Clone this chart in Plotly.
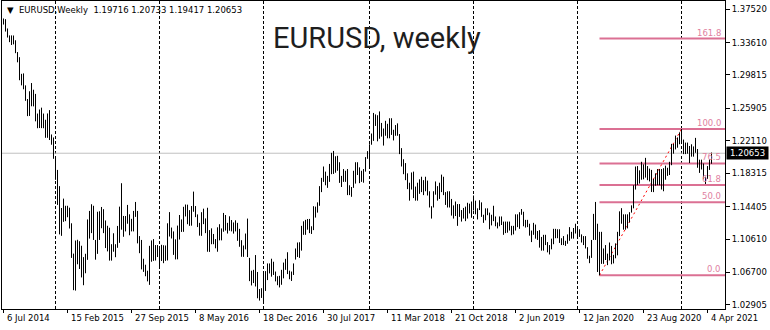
import datetime as dt
import pandas as pd
import plotly.graph_objects as go

# ---------------- data (weekly EURUSD bars) ----------------
symbol = "EURUSD"
timeframe = "Weekly"
chart_title = "EURUSD, weekly"
first_week = "2014-07-06"

high_2014 = [1.3643, 1.3635, 1.3526, 1.3445,
             1.3445, 1.3444, 1.3388, 1.3250, 1.3190,
             1.2995, 1.3000, 1.2860, 1.2700,
             1.2791, 1.2887, 1.2809, 1.2760,
             1.2530, 1.2577, 1.2599, 1.2530, 1.2457,
             1.2531, 1.2570, 1.2285, 1.2250]
low_2014 = [1.3572, 1.3490, 1.3420, 1.3366,
            1.3333, 1.3340, 1.3237, 1.3130, 1.2920,
            1.2860, 1.2814, 1.2679, 1.2500,
            1.2502, 1.2615, 1.2614, 1.2439,
            1.2358, 1.2360, 1.2359, 1.2358, 1.2246,
            1.2246, 1.2220, 1.2165, 1.2000]

high_2015 = [1.2000, 1.1870, 1.1680, 1.1424,
             1.1534, 1.1450, 1.1450, 1.1428,
             1.1245, 1.0890, 1.1043, 1.1052, 1.1035,
             1.0982, 1.0849, 1.0888, 1.1290,
             1.1390, 1.1468, 1.1450, 1.1050, 1.1380,
             1.1386, 1.1436, 1.1410, 1.1278,
             1.1216, 1.1193, 1.1000, 1.1128,
             1.1000, 1.1214, 1.1440, 1.1714, 1.1331,
             1.1330, 1.1460, 1.1350, 1.1297,
             1.1390, 1.1495, 1.1390, 1.1095,
             1.1050, 1.0830, 1.0760, 1.0690, 1.0981,
             1.1044, 1.1060, 1.0990, 1.0990]
low_2015 = [1.1754, 1.1460, 1.1115, 1.1098,
            1.1262, 1.1270, 1.1316, 1.1184,
            1.0840, 1.0462, 1.0457, 1.0765, 1.0710,
            1.0611, 1.0520, 1.0660, 1.0817,
            1.1066, 1.1130, 1.1050, 1.0819, 1.0887,
            1.1050, 1.1187, 1.1130, 1.0955,
            1.0916, 1.0808, 1.0808, 1.0912,
            1.0848, 1.0958, 1.1016, 1.1170, 1.1087,
            1.1150, 1.1240, 1.1105, 1.1150,
            1.1150, 1.1320, 1.1010, 1.0895,
            1.0705, 1.0676, 1.0625, 1.0565, 1.0524,
            1.0795, 1.0805, 1.0809, 1.0850]

high_2016 = [1.0970, 1.0993, 1.0988, 1.0985, 1.1245,
             1.1376, 1.1195, 1.1150, 1.1057,
             1.1218, 1.1342, 1.1290, 1.1438,
             1.1465, 1.1463, 1.1399, 1.1447,
             1.1616, 1.1447, 1.1349, 1.1250, 1.1375,
             1.1416, 1.1302, 1.1427, 1.1165,
             1.1186, 1.1120, 1.1060, 1.1198, 1.1234,
             1.1185, 1.1366, 1.1342, 1.1250,
             1.1327, 1.1283, 1.1255, 1.1280,
             1.1250, 1.1180, 1.1047, 1.0985, 1.1125,
             1.1300, 1.0840, 1.0690, 1.0700,
             1.0873, 1.0675, 1.0475, 1.0485]
low_2016 = [1.0712, 1.0804, 1.0778, 1.0805, 1.0810,
            1.1090, 1.1067, 1.0875, 1.0822,
            1.0823, 1.1055, 1.1144, 1.1145,
            1.1325, 1.1234, 1.1215, 1.1217,
            1.1380, 1.1317, 1.1201, 1.1100, 1.1098,
            1.1235, 1.1130, 1.0912, 1.0910,
            1.1000, 1.1000, 1.0952, 1.0912, 1.1045,
            1.1045, 1.1146, 1.1160, 1.1125,
            1.1158, 1.1150, 1.1124, 1.1150,
            1.1040, 1.0970, 1.0853, 1.0852, 1.0940,
            1.0850, 1.0568, 1.0517, 1.0545,
            1.0505, 1.0367, 1.0340, 1.0371]

high_2017 = [1.0685, 1.0685, 1.0775, 1.0775, 1.0830,
             1.0795, 1.0680, 1.0625, 1.0630,
             1.0700, 1.0785, 1.0829, 1.0906,
             1.0690, 1.0680, 1.0775, 1.0950, 1.1020,
             1.1023, 1.1215, 1.1268, 1.1285,
             1.1295, 1.1296, 1.1210, 1.1445,
             1.1440, 1.1490, 1.1680, 1.1777, 1.1910,
             1.1850, 1.1800, 1.1940, 1.2070,
             1.2092, 1.2030, 1.2035, 1.1960,
             1.1800, 1.1880, 1.1860, 1.1880, 1.1690,
             1.1670, 1.1860, 1.1960, 1.1960,
             1.1900, 1.1860, 1.1880, 1.2020, 1.2090]
low_2017 = [1.0310, 1.0453, 1.0580, 1.0658, 1.0620,
            1.0640, 1.0565, 1.0520, 1.0494,
            1.0525, 1.0600, 1.0700, 1.0650,
            1.0590, 1.0570, 1.0640, 1.0820, 1.0850,
            1.0840, 1.0925, 1.1110, 1.1110,
            1.1170, 1.1130, 1.1120, 1.1165,
            1.1312, 1.1370, 1.1450, 1.1610, 1.1730,
            1.1690, 1.1660, 1.1730, 1.1820,
            1.1823, 1.1837, 1.1860, 1.1718,
            1.1670, 1.1730, 1.1730, 1.1575, 1.1575,
            1.1555, 1.1660, 1.1710, 1.1810,
            1.1715, 1.1730, 1.1720, 1.1850, 1.2000]

high_2018 = [1.2170, 1.2296, 1.2537, 1.2520,
             1.2510, 1.2555, 1.2420, 1.2355,
             1.2445, 1.2410, 1.2475, 1.2475,
             1.2340, 1.2395, 1.2415, 1.2290, 1.2125,
             1.1995, 1.1950, 1.1830, 1.1720,
             1.1840, 1.1850, 1.1675, 1.1720,
             1.1760, 1.1790, 1.1750, 1.1790, 1.1745,
             1.1620, 1.1445, 1.1620, 1.1735,
             1.1680, 1.1720, 1.1815, 1.1790, 1.1610,
             1.1620, 1.1620, 1.1530, 1.1455,
             1.1500, 1.1470, 1.1470, 1.1400,
             1.1425, 1.1440, 1.1485, 1.1475, 1.1500]
low_2018 = [1.1915, 1.2165, 1.2210, 1.2385,
            1.2205, 1.2235, 1.2260, 1.2155,
            1.2270, 1.2240, 1.2240, 1.2280,
            1.2215, 1.2270, 1.2270, 1.2055, 1.1910,
            1.1820, 1.1750, 1.1645, 1.1510,
            1.1640, 1.1540, 1.1510, 1.1510,
            1.1590, 1.1610, 1.1575, 1.1620, 1.1570,
            1.1430, 1.1300, 1.1430, 1.1580,
            1.1510, 1.1530, 1.1610, 1.1575, 1.1460,
            1.1430, 1.1430, 1.1335, 1.1300,
            1.1330, 1.1215, 1.1320, 1.1265,
            1.1300, 1.1270, 1.1300, 1.1360, 1.1310]

high_2019 = [1.1570, 1.1510, 1.1420, 1.1515,
             1.1490, 1.1345, 1.1420, 1.1420,
             1.1370, 1.1345, 1.1450, 1.1325, 1.1255,
             1.1325, 1.1325, 1.1265, 1.1265,
             1.1265, 1.1265, 1.1215, 1.1215,
             1.1350, 1.1350, 1.1375, 1.1412, 1.1380,
             1.1285, 1.1285, 1.1240, 1.1160,
             1.1250, 1.1230, 1.1155, 1.1165,
             1.1085, 1.1110, 1.1110, 1.1025, 1.0990,
             1.1065, 1.1180, 1.1180, 1.1175,
             1.1175, 1.1070, 1.1095, 1.1040,
             1.1115, 1.1200, 1.1145, 1.1190, 1.1240]
low_2019 = [1.1395, 1.1350, 1.1290, 1.1400,
            1.1320, 1.1250, 1.1280, 1.1340,
            1.1175, 1.1220, 1.1270, 1.1210, 1.1185,
            1.1210, 1.1225, 1.1110, 1.1130,
            1.1135, 1.1160, 1.1105, 1.1115,
            1.1160, 1.1200, 1.1180, 1.1345, 1.1210,
            1.1195, 1.1200, 1.1100, 1.1025,
            1.1110, 1.1065, 1.1050, 1.0960,
            1.0925, 1.0925, 1.0990, 1.0905, 1.0880,
            1.0940, 1.1000, 1.1070, 1.1070,
            1.1015, 1.0990, 1.0990, 1.0980,
            1.1005, 1.1040, 1.1065, 1.1065, 1.1125]

high_2020 = [1.1205, 1.1175, 1.1115, 1.1095,
             1.1095, 1.0965, 1.0865, 1.1050,
             1.1355, 1.1495, 1.1240, 1.1145, 1.1145,
             1.0950, 1.0990, 1.0890, 1.1020,
             1.0980, 1.0875, 1.1010, 1.1145, 1.1385,
             1.1422, 1.1350, 1.1350, 1.1350,
             1.1375, 1.1455, 1.1690, 1.1910,
             1.1915, 1.1865, 1.1965, 1.1935, 1.2011,
             1.1915, 1.1885, 1.1870, 1.1765,
             1.1830, 1.1880, 1.1880, 1.1880,
             1.1890, 1.1920, 1.1895, 1.1965, 1.2175,
             1.2175, 1.2272, 1.2250, 1.2310]
low_2020 = [1.1085, 1.1085, 1.1020, 1.0990,
            1.0950, 1.0830, 1.0778, 1.0840,
            1.1050, 1.1050, 1.0675, 1.0636, 1.0770,
            1.0770, 1.0815, 1.0755, 1.0810,
            1.0765, 1.0775, 1.0835, 1.0870, 1.1095,
            1.1240, 1.1170, 1.1170, 1.1185,
            1.1255, 1.1370, 1.1420, 1.1640,
            1.1695, 1.1710, 1.1755, 1.1760, 1.1780,
            1.1750, 1.1735, 1.1612, 1.1610,
            1.1685, 1.1690, 1.1690, 1.1640,
            1.1620, 1.1755, 1.1800, 1.1810, 1.1925,
            1.2060, 1.2110, 1.2130, 1.2170]

high_2021 = [1.2349, 1.2225, 1.2190, 1.2190, 1.2150,
             1.2170, 1.2145, 1.2245, 1.2115,
             1.1990, 1.1990, 1.1945, 1.1790,
             1.1915, 1.1995, 1.20733]
low_2021 = [1.2195, 1.2055, 1.2055, 1.2060, 1.1950,
            1.2025, 1.2025, 1.2070, 1.1895,
            1.1835, 1.1875, 1.1760, 1.1705,
            1.1765, 1.1870, 1.19417]

last_open = 1.19716
last_close = 1.20653

x_tick_labels = ["6 Jul 2014", "15 Feb 2015", "27 Sep 2015", "8 May 2016",
                 "18 Dec 2016", "30 Jul 2017", "11 Mar 2018", "21 Oct 2018",
                 "2 Jun 2019", "12 Jan 2020", "23 Aug 2020", "4 Apr 2021"]
y_tick_values = [1.37520, 1.33610, 1.29815, 1.25905, 1.22110,
                 1.18315, 1.14405, 1.10610, 1.06700, 1.02905]

fib_from = "2020-01-01"
fib_levels = [0.0, 50.0, 61.8, 76.5, 100.0, 161.8]

# ---------------- derived ----------------
weekly_high = high_2014 + high_2015 + high_2016 + high_2017 + high_2018 + high_2019 + high_2020 + high_2021
weekly_low = low_2014 + low_2015 + low_2016 + low_2017 + low_2018 + low_2019 + low_2020 + low_2021
n = min(len(weekly_high), len(weekly_low))
dates = pd.date_range(first_week, periods=n, freq="7D")
week = pd.Timedelta(days=7)

tick_dates = [pd.Timestamp(dt.datetime.strptime(s, "%d %b %Y")) for s in x_tick_labels]
year_starts = [d for prev, d in zip(dates[:-1], dates[1:]) if d.year != prev.year]

seg = [i for i, d in enumerate(dates) if d >= pd.Timestamp(fib_from)]
lo_i = min(seg, key=lambda i: weekly_low[i])
hi_i = max(seg, key=lambda i: weekly_high[i])
fib_lo, fib_hi = weekly_low[lo_i], weekly_high[hi_i]

x_range = [dates[0] - 0.75 * week, dates[0] + 360.75 * week]
y_range = [1.02414, 1.38478]

FONT = "DejaVu Sans"
FS = 8.5
FIB_COLOR = "#DB7093"

fig = go.Figure()

bx, by = [], []
for d, lo, hi in zip(dates, weekly_low, weekly_high):
    bx += [d, d, None]
    by += [lo, hi, None]
fig.add_trace(go.Scatter(x=bx, y=by, mode="lines",
                         line=dict(color="#000000", width=1),
                         hoverinfo="skip", showlegend=False))

shapes = []
for d in year_starts:
    shapes.append(dict(type="line", xref="x", yref="paper", x0=d, x1=d, y0=0, y1=1,
                       line=dict(color="#000000", width=1, dash="3px,2px"), layer="below"))
shapes.append(dict(type="line", xref="paper", yref="y", x0=0, x1=1, y0=last_close, y1=last_close,
                   line=dict(color="#C0C0C0", width=1), layer="below"))

annotations = []
for r in fib_levels:
    lvl = fib_lo + r / 100.0 * (fib_hi - fib_lo)
    shapes.append(dict(type="line", xref="x", yref="y", x0=dates[lo_i], x1=x_range[1],
                       y0=lvl, y1=lvl, line=dict(color=FIB_COLOR, width=2), layer="below"))
    annotations.append(dict(text="%.1f" % r, xref="paper", yref="y", x=1, y=lvl,
                            xanchor="right", yanchor="bottom", xshift=-2, yshift=-1,
                            showarrow=False, font=dict(family=FONT, size=FS, color="#E0819F")))
shapes.append(dict(type="line", xref="x", yref="y", x0=dates[lo_i], x1=dates[hi_i],
                   y0=fib_lo, y1=fib_hi, line=dict(color="#FF0000", width=1, dash="2px,3px"),
                   layer="below"))

for d, s in zip(tick_dates, x_tick_labels):
    annotations.append(dict(text=s, xref="x", yref="paper", x=d, y=0, xanchor="left",
                            yanchor="top", xshift=1, yshift=-2, showarrow=False,
                            font=dict(family=FONT, size=FS, color="#000000")))

header = "\u25BC\u00a0 %s,%s\u00a0 %.5f %.5f %.5f %.5f" % (
    symbol, timeframe, last_open, weekly_high[-1], weekly_low[-1], last_close)
annotations.append(dict(text=header, xref="paper", yref="paper", x=0, y=1, xanchor="left",
                        yanchor="top", xshift=3, yshift=-2, showarrow=False,
                        font=dict(family=FONT, size=FS, color="#000000")))

annotations.append(dict(text="%.5f" % last_close, xref="paper", yref="y", x=1, y=last_close,
                        xanchor="left", yanchor="middle", xshift=1, showarrow=False,
                        bgcolor="#000000", width=41, height=12, borderpad=0,
                        font=dict(family=FONT, size=FS, color="#FFFFFF")))

annotations.append(dict(text=chart_title, xref="paper", yref="paper", x=0.5187, y=0.94,
                        xanchor="center", yanchor="top", showarrow=False,
                        font=dict(family="Roboto", size=29, color="#1E1E1E")))

fig.update_layout(
    width=770, height=330,
    margin=dict(l=2, r=45, t=1, b=21, pad=0),
    paper_bgcolor="#FFFFFF", plot_bgcolor="#FFFFFF",
    showlegend=False,
    font=dict(family=FONT, size=FS, color="#000000"),
    shapes=shapes, annotations=annotations,
    xaxis=dict(type="date", range=x_range, showgrid=False, zeroline=False,
               showline=True, linecolor="#000000", linewidth=1, mirror=True,
               ticks="outside", ticklen=3, tickcolor="#000000", tickwidth=1,
               tickvals=tick_dates, showticklabels=False, fixedrange=True),
    yaxis=dict(range=y_range, side="right", showgrid=False, zeroline=False,
               showline=True, linecolor="#000000", linewidth=1, mirror=True,
               ticks="outside", ticklen=4, tickcolor="#000000", tickwidth=1,
               tickvals=y_tick_values, ticktext=["%.5f" % v for v in y_tick_values],
               tickfont=dict(family=FONT, size=FS, color="#000000"), fixedrange=True),
)

fig.write_html("out.html")
